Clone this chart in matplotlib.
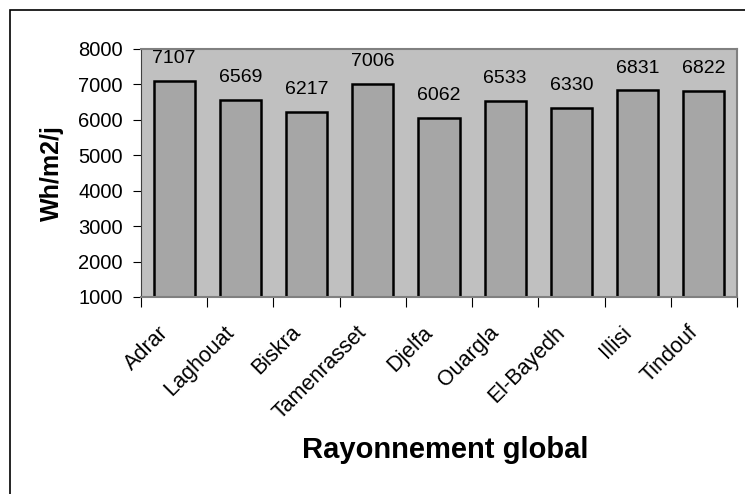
import matplotlib.pyplot as plt
from matplotlib.patches import Rectangle

villes = ['Adrar', 'Laghouat', 'Biskra', 'Tamenrasset', 'Djelfa',
          'Ouargla', 'El-Bayedh', 'Illisi', 'Tindouf']
rayonnement = [7107, 6569, 6217, 7006, 6062, 6533, 6330, 6831, 6822]
yticks = [1000, 2000, 3000, 4000, 5000, 6000, 7000, 8000]

plt.rcParams['font.family'] = 'Liberation Sans'

fig = plt.figure(figsize=(7.45, 4.94), dpi=100)
ax = fig.add_axes([141 / 745, 1 - 297 / 494, 596 / 745, 248 / 494])

# outer frame (right and bottom edges fall outside the image)
fig.patches.append(Rectangle((10 / 745, -0.1), 1.1, 1 - 10 / 494 + 0.1,
                             transform=fig.transFigure, fill=False,
                             edgecolor='black', linewidth=1.2))

x = range(len(villes))
ax.bar(x, [v - 1000 for v in rayonnement], bottom=1000, width=0.62,
       color='#a6a6a6', edgecolor='black', linewidth=1.8, zorder=2)

for i, v in enumerate(rayonnement):
    ax.annotate(str(v), (i, v), xytext=(0, 10), textcoords='offset points',
                ha='center', va='bottom', fontsize=14)

ax.set_facecolor('#c0c0c0')
ax.set_xlim(-0.5, len(villes) - 0.5)
ax.set_ylim(1000, 8000)
ax.set_yticks(yticks)
ax.tick_params(axis='y', labelsize=14.5, length=6, pad=7, direction='out')

# category ticks sit on the boundaries between bars,
# names hang from just left of each bar centre
ax.set_xticks([i - 0.5 for i in range(len(villes) + 1)], minor=False)
ax.set_xticklabels([])
ax.set_xticks([i - 0.25 for i in x], minor=True)
ax.set_xticklabels(villes, minor=True, rotation=45, ha='right', va='top',
                   rotation_mode='anchor', fontsize=15.5)
ax.tick_params(axis='x', which='major', length=7, direction='out')
ax.tick_params(axis='x', which='minor', length=0, pad=18)

for side in ['top', 'right']:
    ax.spines[side].set_color('#808080')
    ax.spines[side].set_linewidth(1.5)
ax.spines['left'].set_color('#404040')
ax.spines['bottom'].set_color('#808080')
ax.spines['bottom'].set_linewidth(1.5)

ax.set_ylabel('Wh/m2/j', fontsize=18, fontweight='bold', labelpad=10)
ax.set_xlabel('Rayonnement global', fontsize=21, fontweight='bold')
ax.xaxis.set_label_coords(0.51, -0.56)

fig.savefig('out.png', dpi=100)
